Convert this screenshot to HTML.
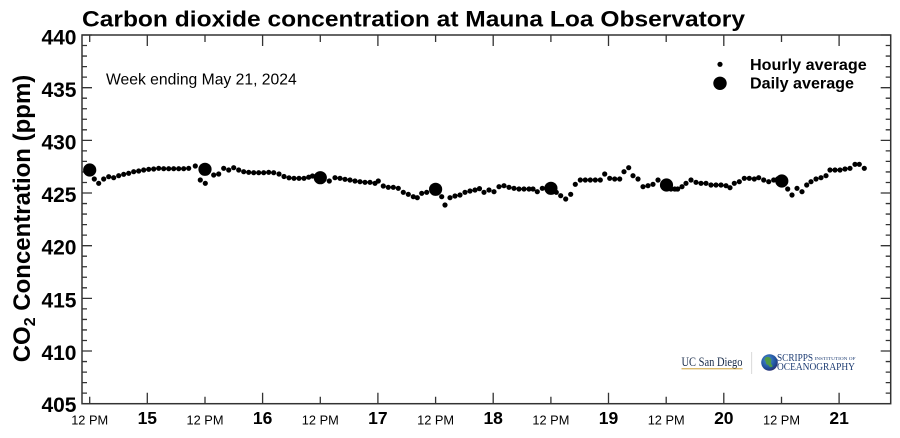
<!DOCTYPE html>
<html>
<head>
<meta charset="utf-8">
<style>
html,body{margin:0;padding:0;background:#fff;}
svg{display:block;}
.sans{font-family:"Liberation Sans",Arial,sans-serif;}
.serif{font-family:"Liberation Serif","Times New Roman",serif;}
</style>
</head>
<body>
<svg width="900" height="438" viewBox="0 0 900 438" xmlns="http://www.w3.org/2000/svg">
<rect width="900" height="438" fill="#fff"/>

<!-- Title -->
<text class="sans" x="82" y="26.7" font-size="22" font-weight="bold" fill="#000" textLength="663" lengthAdjust="spacingAndGlyphs">Carbon dioxide concentration at Mauna Loa Observatory</text>

<!-- Y axis title -->
<text class="sans" transform="translate(30,218.5) rotate(-90)" text-anchor="middle" font-size="24" font-weight="bold" fill="#000">CO<tspan font-size="16" dy="5">2</tspan><tspan dy="-5"> Concentration (ppm)</tspan></text>

<!-- Frame -->
<rect x="82" y="35" width="808.7" height="368.7" fill="none" stroke="#333" stroke-width="1.5"/>

<!-- Y ticks -->
<path stroke="#333" stroke-width="1.3" fill="none" d="
M82 35h10 M82 45.53h5 M82 56.07h5 M82 66.6h5 M82 77.14h5 M82 87.67h10 M82 98.2h5 M82 108.74h5 M82 119.27h5 M82 129.81h5
M82 140.34h10 M82 150.87h5 M82 161.41h5 M82 171.94h5 M82 182.48h5 M82 193.01h10 M82 203.54h5 M82 214.08h5 M82 224.61h5 M82 235.15h5
M82 245.68h10 M82 256.21h5 M82 266.75h5 M82 277.28h5 M82 287.82h5 M82 298.35h10 M82 308.88h5 M82 319.42h5 M82 329.95h5 M82 340.49h5
M82 351.02h10 M82 361.55h5 M82 372.09h5 M82 382.62h5 M82 393.16h5
M890.7 35h-10 M890.7 45.53h-5 M890.7 56.07h-5 M890.7 66.6h-5 M890.7 77.14h-5 M890.7 87.67h-10 M890.7 98.2h-5 M890.7 108.74h-5 M890.7 119.27h-5 M890.7 129.81h-5
M890.7 140.34h-10 M890.7 150.87h-5 M890.7 161.41h-5 M890.7 171.94h-5 M890.7 182.48h-5 M890.7 193.01h-10 M890.7 203.54h-5 M890.7 214.08h-5 M890.7 224.61h-5 M890.7 235.15h-5
M890.7 245.68h-10 M890.7 256.21h-5 M890.7 266.75h-5 M890.7 277.28h-5 M890.7 287.82h-5 M890.7 298.35h-10 M890.7 308.88h-5 M890.7 319.42h-5 M890.7 329.95h-5 M890.7 340.49h-5
M890.7 351.02h-10 M890.7 361.55h-5 M890.7 372.09h-5 M890.7 382.62h-5 M890.7 393.16h-5
"/>

<!-- X ticks -->
<path stroke="#333" stroke-width="1.3" fill="none" d="
M147.3 403.7v-11 M262.6 403.7v-11 M377.9 403.7v-11 M493.2 403.7v-11 M608.5 403.7v-11 M723.8 403.7v-11 M839.1 403.7v-11
M89.7 403.7v-7 M205 403.7v-7 M320.3 403.7v-7 M435.6 403.7v-7 M550.9 403.7v-7 M666.2 403.7v-7 M781.5 403.7v-7
M147.3 35v11 M262.6 35v11 M377.9 35v11 M493.2 35v11 M608.5 35v11 M723.8 35v11 M839.1 35v11
M89.7 35v7 M205 35v7 M320.3 35v7 M435.6 35v7 M550.9 35v7 M666.2 35v7 M781.5 35v7
"/>

<!-- Y tick labels -->
<g class="sans" font-size="21" font-weight="bold" fill="#000" text-anchor="end">
<text x="76.5" y="44.5">440</text>
<text x="76.5" y="97">435</text>
<text x="76.5" y="149.5">430</text>
<text x="76.5" y="202">425</text>
<text x="76.5" y="254.7">420</text>
<text x="76.5" y="307.3">415</text>
<text x="76.5" y="360">410</text>
<text x="76.5" y="412">405</text>
</g>

<!-- X tick labels -->
<g class="sans" font-size="12.8" fill="#000" text-anchor="middle">
<text x="89.7" y="424.3">12 PM</text>
<text x="205" y="424.3">12 PM</text>
<text x="320.3" y="424.3">12 PM</text>
<text x="435.6" y="424.3">12 PM</text>
<text x="550.9" y="424.3">12 PM</text>
<text x="666.2" y="424.3">12 PM</text>
<text x="781.5" y="424.3">12 PM</text>
</g>
<g class="sans" font-size="17.5" font-weight="bold" fill="#000" text-anchor="middle">
<text x="147.3" y="424">15</text>
<text x="262.6" y="424">16</text>
<text x="377.9" y="424">17</text>
<text x="493.2" y="424">18</text>
<text x="608.5" y="424">19</text>
<text x="723.8" y="424">20</text>
<text x="839.1" y="424">21</text>
</g>

<!-- Week ending -->
<text class="sans" x="106" y="84.3" font-size="15.7" fill="#000" textLength="190.7" lengthAdjust="spacingAndGlyphs">Week ending May 21, 2024</text>

<!-- Legend -->
<circle cx="720" cy="64.3" r="2.6" fill="#000"/>
<circle cx="720" cy="83.3" r="6.7" fill="#000"/>
<text class="sans" x="750" y="70" font-size="15.5" font-weight="bold" fill="#000" textLength="116.7" lengthAdjust="spacingAndGlyphs">Hourly average</text>
<text class="sans" x="750" y="88.5" font-size="15.5" font-weight="bold" fill="#000" textLength="104" lengthAdjust="spacingAndGlyphs">Daily average</text>

<!-- Hourly data -->
<path fill="none" stroke="#000" stroke-width="5.2" stroke-linecap="round" d="
M94.3 179h0 M98.7 183.3h0 M103.7 179h0 M108.7 176.7h0 M113.7 177.7h0 M118.7 175.7h0 M123.7 174.3h0 M128.7 173.3h0 M133.7 171.7h0 M138.7 171h0
M143.7 170h0 M148.7 169.3h0 M153.7 169h0 M158.7 168.3h0 M163.7 168.7h0 M168.7 168.7h0 M173.7 168.7h0 M178.7 168.7h0 M183.7 168.7h0 M188.7 168.3h0 M195.3 166h0
M200.3 180h0 M205.3 183.3h0 M213.7 175h0 M218.7 174h0 M223.7 168.3h0 M228.7 170h0 M233.7 167.7h0 M238.7 170h0 M243.7 171.7h0 M248.7 172.3h0
M253.7 172.7h0 M258.7 172.7h0 M263.7 172.7h0 M268.7 172.3h0 M273.7 172.7h0 M279 174h0 M284 176.5h0 M289 177.8h0 M294 178.3h0 M299 178.3h0
M304 178.3h0 M308.7 177.2h0 M312.5 176h0 M329.3 181h0 M335 177.7h0 M340 178.3h0 M345 179.3h0 M350 180h0 M355 181h0 M360 181.7h0
M365 182.3h0 M370 182.3h0 M375 183.3h0 M378.3 181h0 M383.3 186h0 M388.3 187.3h0 M393.3 187.3h0 M398.3 188.3h0 M403.3 192.3h0 M408.3 194.3h0
M413.3 196.7h0 M417.3 197.7h0 M421.7 193.3h0 M426.7 192.3h0 M441.7 196.7h0 M445 205h0 M450 197.7h0 M455 196h0 M460 195h0 M465 192.3h0
M470 191h0 M475 190h0 M479.5 188.6h0 M484 192.3h0 M489 190h0 M494 191.7h0 M499 186.7h0 M504 185.7h0 M509 187.3h0 M514 188.3h0
M519 189h0 M524 189h0 M529 189h0 M533 189h0 M537.3 191.7h0 M542.3 188.3h0 M556.3 192.3h0 M560.7 195.7h0 M565.7 199h0 M570.7 194.3h0
M575.3 184.3h0 M580.3 180h0 M585.3 180h0 M590.3 180h0 M595.3 180h0 M600.3 180h0 M604.7 174h0 M609.7 178.3h0 M614.7 179h0 M619.7 179h0
M624 171.7h0 M628.7 167.7h0 M633 175.7h0 M638 179h0 M643 186.7h0 M648 185.7h0 M653 184.3h0 M658 180h0 M663 186h0 M671 189h0
M674.7 189h0 M677.7 189h0 M682 186.7h0 M686 183.3h0 M691 180h0 M696 182.3h0 M701 183.3h0 M706 183.3h0 M711 185h0 M716 185h0
M721 185h0 M726 185.7h0 M730 187.7h0 M734.3 183.3h0 M739.3 181.7h0 M744.3 178.3h0 M749.3 178.3h0 M754.3 179h0 M758.7 177.7h0 M763.7 180h0
M768.7 181.7h0 M773.7 180h0 M777.7 179h0 M787.7 189h0 M792 195h0 M797 188.3h0 M802 191.7h0 M806.7 185h0 M811 181.7h0 M816 179h0
M821 177.7h0 M826 175.7h0 M830 170h0 M835 170h0 M840 170h0 M845 169h0 M850 168.3h0 M855 164.3h0 M859.3 164.3h0 M864.3 168.3h0
"/>

<!-- Daily averages -->
<g fill="#000">
<circle cx="89.7" cy="170" r="6.6"/>
<circle cx="205" cy="169.3" r="6.6"/>
<circle cx="320.3" cy="177.7" r="6.6"/>
<circle cx="435.6" cy="189.3" r="6.6"/>
<circle cx="550.9" cy="188.3" r="6.6"/>
<circle cx="666.5" cy="185" r="6.6"/>
<circle cx="781.8" cy="181" r="6.6"/>
</g>

<!-- Logos -->
<text class="serif" x="681.5" y="366" font-size="12.5" fill="#182B49" textLength="61" lengthAdjust="spacingAndGlyphs">UC San Diego</text>
<line x1="681.5" y1="368.8" x2="742.5" y2="368.8" stroke="#C69214" stroke-width="0.8"/>
<line x1="751.7" y1="352" x2="751.7" y2="374" stroke="#cfcfcf" stroke-width="0.8"/>
<defs>
<radialGradient id="gl" cx="0.4" cy="0.35" r="0.7">
<stop offset="0" stop-color="#4a8fd6"/>
<stop offset="0.7" stop-color="#1f4f9a"/>
<stop offset="1" stop-color="#2a2a6a"/>
</radialGradient>
</defs>
<circle cx="769.5" cy="362.5" r="8.3" fill="url(#gl)"/>
<path d="M765 358c2-2 5-1 6 1s-1 4 1 6-2 3-3 1-3-1-3-3-2-3-1-5z" fill="#4f9a45"/>
<text class="serif" x="777" y="361" font-size="11" fill="#1d3c73" textLength="36" lengthAdjust="spacingAndGlyphs">SCRIPPS</text>
<text class="serif" x="814.5" y="360" font-size="4.5" fill="#1d3c73" textLength="41" lengthAdjust="spacingAndGlyphs">INSTITUTION OF</text>
<text class="serif" x="777" y="369.8" font-size="10.5" fill="#1d3c73" textLength="78" lengthAdjust="spacingAndGlyphs">OCEANOGRAPHY</text>
</svg>
</body>
</html>
